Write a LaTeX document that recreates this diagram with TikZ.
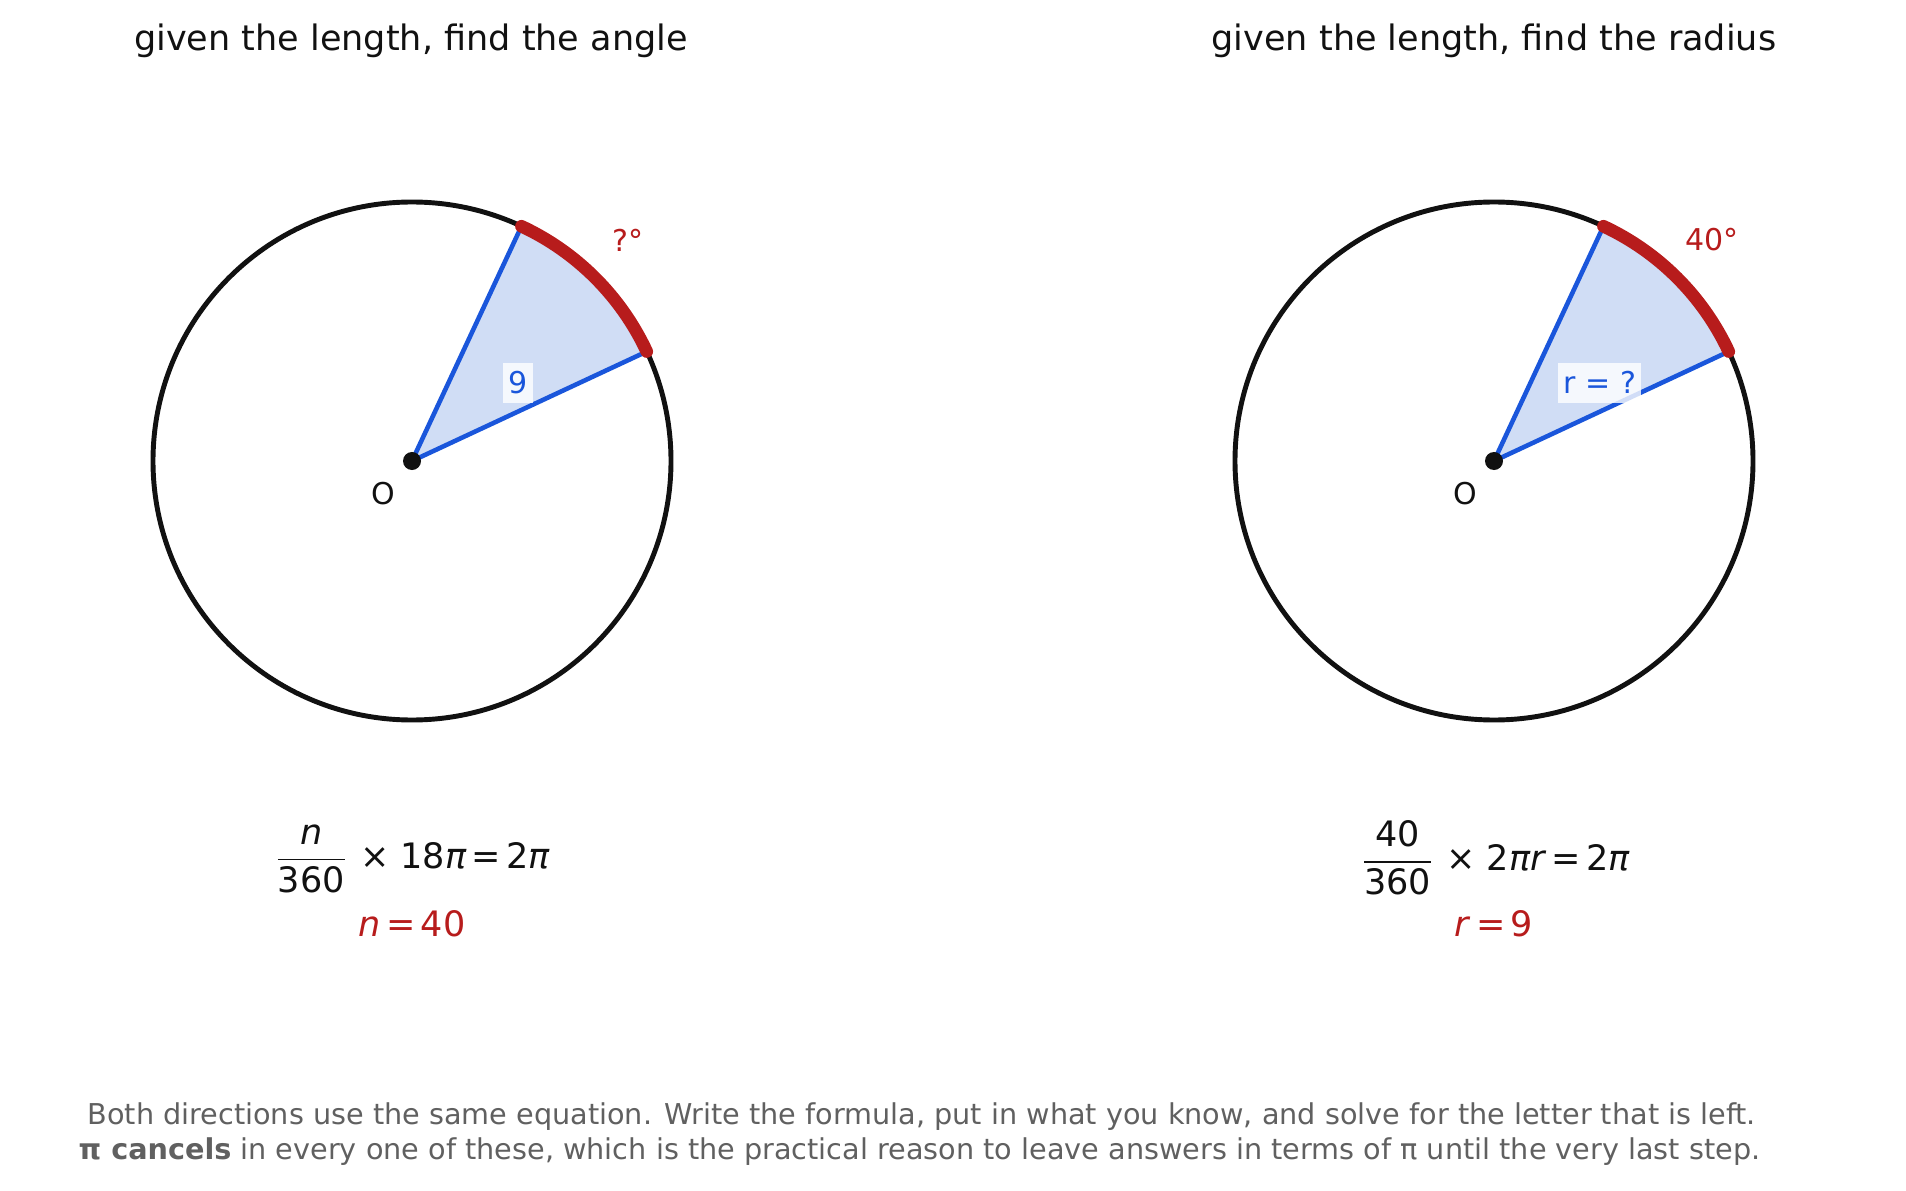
\documentclass[tikz,border=0pt]{standalone}
\usepackage{amsmath}
\usepackage{fontspec}
\setmainfont{DejaVu Sans}
\usepackage{xcolor}
\usepackage{tikz}
\usetikzlibrary{positioning}

\definecolor{arcred}{RGB}{183,28,28}
\definecolor{spokeblue}{RGB}{26,86,219}
\definecolor{sectorfill}{RGB}{208,221,245}
\definecolor{inkblack}{RGB}{17,17,17}
\definecolor{notegray}{RGB}{96,96,96}

\newcommand{\eqsp}{\hspace{0.15em}}

\begin{document}
\begin{tikzpicture}[
        x=0.01cm, y=0.01cm,
        title/.style={font=\fontsize{9.96pt}{12pt}\selectfont, text=inkblack, anchor=base, inner sep=0pt},
        ring/.style={draw=inkblack, line width=1.4pt},
        sector/.style={fill=sectorfill},
        spoke/.style={draw=spokeblue, line width=1.3pt},
        arcmark/.style={draw=arcred, line width=3.6pt, line cap=round},
        centre/.style={circle, fill=inkblack, inner sep=0pt, minimum size=0.18cm},
        lbl/.style={font=\fontsize{8.54pt}{10pt}\selectfont, inner sep=0pt},
        lenlabel/.style={lbl, text=spokeblue, fill=white, fill opacity=0.8, text opacity=1, inner xsep=0.055cm, minimum height=0.4cm},
        eqn/.style={font=\fontsize{9.96pt}{12pt}\selectfont, text=inkblack, anchor=base, inner sep=0pt},
        note/.style={font=\fontsize{8.16pt}{10pt}\selectfont, text=notegray, anchor=base, inner sep=0pt}
    ]
        \useasboundingbox (0,0) rectangle (1906,1190);

        % Titles
        \node[title] (titleL) at (411,1139.7) {given the length, find the angle};
        \node[title] (titleR) at (1494,1139.7) {given the length, find the radius};

        % Left circle
        \coordinate (cL) at (412,729);
        \path (cL) ++(25:259) coordinate (aL) (cL) ++(65:259) coordinate (bL);
        \fill[sector] (cL) -- (aL) arc[start angle=25, end angle=65, radius=259] -- cycle;
        \draw[ring] (cL) circle[radius=259];
        \draw[spoke] (cL) -- (aL);
        \draw[spoke] (cL) -- (bL);
        \draw[arcmark] (aL) arc[start angle=25, end angle=65, radius=259];
        \node[centre] (oL) at (cL) {};
        \node[lbl, text=inkblack] (nameL) at (383.3,696.7) {O};
        \node[lenlabel] (lenL) at (517.7,807.3) {9};
        \node[lbl, text=arcred] (angL) at (628,950) {?°};

        % Right circle
        \coordinate (cR) at (1494,729);
        \path (cR) ++(25:259) coordinate (aR) (cR) ++(65:259) coordinate (bR);
        \fill[sector] (cR) -- (aR) arc[start angle=25, end angle=65, radius=259] -- cycle;
        \draw[ring] (cR) circle[radius=259];
        \draw[spoke] (cR) -- (aR);
        \draw[spoke] (cR) -- (bR);
        \draw[arcmark] (aR) arc[start angle=25, end angle=65, radius=259];
        \node[centre] (oR) at (cR) {};
        \node[lbl, text=inkblack] (nameR) at (1465.6,696.7) {O};
        \node[lenlabel] (lenR) at (1599.7,807.3) {r = ?};
        \node[lbl, text=arcred] (angR) at (1711.7,950) {40°};

        % Equations
        \node[eqn] (eqL) at (412,322) {$\dfrac{\text{\textit{n}}}{\text{360}}$ × 18\textit{π}\eqsp=\eqsp2\textit{π}};
        \node[eqn, text=arcred] (ansL) at (412,253.3) {\textit{n}\eqsp=\eqsp40};
        \node[eqn] (eqR) at (1495,319.3) {$\dfrac{\text{40}}{\text{360}}$ × 2\textit{πr}\eqsp=\eqsp2\textit{π}};
        \node[eqn, text=arcred] (ansR) at (1494,253.3) {\textit{r}\eqsp=\eqsp9};

        % Footer note
        \node[note] (note1) at (921.7,65.5) {Both directions use the same equation. Write the formula, put in what you know, and solve for the letter that is left.};
        \node[note] (note2) at (919.5,30.5) {\textbf{π cancels} in every one of these, which is the practical reason to leave answers in terms of π until the very last step.};
    \end{tikzpicture}
\end{document}
